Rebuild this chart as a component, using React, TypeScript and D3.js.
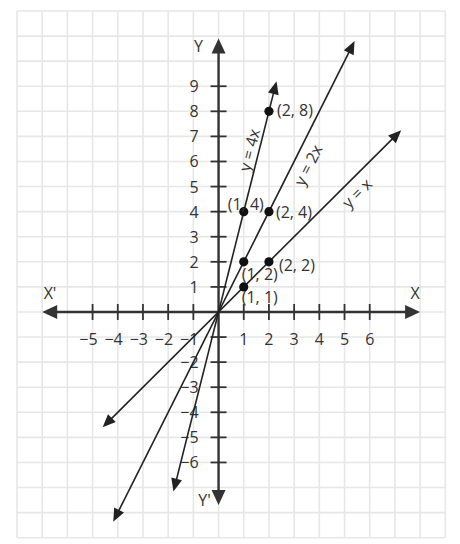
import React from "react";
import * as d3 from "d3";

const W = 460;
const H = 544;

const xDomain = [-8, 9];
const yDomain = [-9, 12];
const xTicks = [-5, -4, -3, -2, -1, 1, 2, 3, 4, 5, 6];
const yTicks = [-6, -5, -4, -3, -2, -1, 1, 2, 3, 4, 5, 6, 7, 8, 9];
const xAxisExtent = [-7.0, 8.0];
const yAxisExtent = [-7.7, 10.9];

const slopes = [4, 2, 1];
const lineFrom = [-1.79, -4.18, -4.6];
const lineTo = [2.3, 5.4, 7.25];
const lineLabels = ["y = 4x", "y = 2x", "y = x"];
const lineLabelAt: [number, number][] = [
  [1.22, 6.46],
  [3.55, 5.86],
  [5.49, 4.74],
];

const pointsX = [2, 1, 2, 1, 2, 1];
const pointsY = [8, 4, 4, 2, 2, 1];
const pointLabels = ["(2, 8)", "(1, 4)", "(2, 4)", "(1, 2)", "(2, 2)", "(1, 1)"];
const pointLabelOffset: [number, number, string][] = [
  [8, -1, "start"],
  [2, -8, "middle"],
  [7, 0, "start"],
  [-2, 12, "start"],
  [10, 3, "start"],
  [-2, 10, "start"],
];

const FONT = "'Open Sans', 'DejaVu Sans', sans-serif";
const TXT = "#333";

function arrowHead(tipX: number, tipY: number, fromX: number, fromY: number, len: number, half: number) {
  const dx = tipX - fromX;
  const dy = tipY - fromY;
  const d = Math.hypot(dx, dy);
  const ux = dx / d;
  const uy = dy / d;
  const bx = tipX - ux * len;
  const by = tipY - uy * len;
  const px = -uy;
  const py = ux;
  return {
    points: `${tipX},${tipY} ${bx + px * half},${by + py * half} ${bx - px * half},${by - py * half}`,
    baseX: tipX - ux * (len - 2),
    baseY: tipY - uy * (len - 2),
  };
}

export default function App() {
  const x = d3.scaleLinear().domain(xDomain).range([17, 445.3]);
  const y = d3.scaleLinear().domain(yDomain).range([537.7, 11]);

  const gridX = d3.range(xDomain[0], xDomain[1] + 1);
  const gridY = d3.range(yDomain[0], yDomain[1] + 1);

  const ox = x(0);
  const oy = y(0);

  // axes arrows
  const xl = x(xAxisExtent[0]);
  const xr = x(xAxisExtent[1]);
  const yt = y(yAxisExtent[1]);
  const yb = y(yAxisExtent[0]);
  const aL = arrowHead(xl, oy, xr, oy, 15, 7);
  const aR = arrowHead(xr, oy, xl, oy, 15, 7);
  const aT = arrowHead(ox, yt, ox, yb, 15, 7);
  const aB = arrowHead(ox, yb, ox, yt, 15, 7);

  return (
    <svg
      width={W}
      height={H}
      style={{ position: "fixed", left: 0, top: 0, background: "#fff" }}
      fontFamily={FONT}
    >
      <rect x={0} y={0} width={W} height={H} fill="#fff" />
      <g stroke="#e7e7e7" strokeWidth={1.6}>
        {gridX.map((v) => (
          <line key={"gx" + v} x1={x(v)} x2={x(v)} y1={y(yDomain[1])} y2={y(yDomain[0])} />
        ))}
        {gridY.map((v) => (
          <line key={"gy" + v} x1={x(xDomain[0])} x2={x(xDomain[1])} y1={y(v)} y2={y(v)} />
        ))}
      </g>

      {/* axes */}
      <g stroke="#333" strokeWidth={2.4}>
        <line x1={aL.baseX} x2={aR.baseX} y1={oy} y2={oy} />
        <line x1={ox} x2={ox} y1={aT.baseY} y2={aB.baseY} />
        {xTicks.map((t) => (
          <line key={"xt" + t} x1={x(t)} x2={x(t)} y1={oy - 8} y2={oy + 8} strokeWidth={1.8} />
        ))}
        {yTicks.map((t) => (
          <line key={"yt" + t} x1={ox - 8} x2={ox + 8} y1={y(t)} y2={y(t)} strokeWidth={1.8} />
        ))}
      </g>
      <g fill="#333">
        <polygon points={aL.points} />
        <polygon points={aR.points} />
        <polygon points={aT.points} />
        <polygon points={aB.points} />
      </g>

      {/* tick labels */}
      <g fill={TXT} fontSize={16}>
        {xTicks.map((t) => (
          <text
            key={"xl" + t}
            x={t < 0 ? x(t) + 5 : x(t)}
            y={oy + 27}
            textAnchor={t < 0 ? "end" : "middle"}
            dominantBaseline="central"
          >
            {t < 0 ? "\u2212" + Math.abs(t) : String(t)}
          </text>
        ))}
        {yTicks
          .filter((t) => t !== -1)
          .map((t) => (
            <text key={"yl" + t} x={ox - 20} y={y(t)} textAnchor="end" dominantBaseline="central">
              {t < 0 ? "\u2212" + Math.abs(t) : String(t)}
            </text>
          ))}
        <text x={50} y={oy - 19} textAnchor="middle" dominantBaseline="central">X'</text>
        <text x={415} y={oy - 19} textAnchor="middle" dominantBaseline="central">X</text>
        <text x={ox - 20} y={46} textAnchor="middle" dominantBaseline="central">Y</text>
        <text x={ox - 14} y={500} textAnchor="middle" dominantBaseline="central">Y'</text>
      </g>

      {/* lines */}
      {slopes.map((m, i) => {
        const x1 = x(lineFrom[i]);
        const y1 = y(m * lineFrom[i]);
        const x2 = x(lineTo[i]);
        const y2 = y(m * lineTo[i]);
        const a1 = arrowHead(x1, y1, x2, y2, 13, 5.5);
        const a2 = arrowHead(x2, y2, x1, y1, 13, 5.5);
        const ang = (Math.atan2(y2 - y1, x2 - x1) * 180) / Math.PI;
        const [lx, ly] = lineLabelAt[i];
        return (
          <g key={"l" + i}>
            <line x1={a1.baseX} y1={a1.baseY} x2={a2.baseX} y2={a2.baseY} stroke="#222" strokeWidth={1.6} />
            <polygon points={a1.points} fill="#222" />
            <polygon points={a2.points} fill="#222" />
            <text
              transform={`translate(${x(lx)},${y(ly)}) rotate(${ang})`}
              textAnchor="middle"
              dominantBaseline="central"
              fontSize={16}
              fill={TXT}
            >
              {lineLabels[i]}
            </text>
          </g>
        );
      })}

      {/* points */}
      {pointsX.map((px, i) => (
        <g key={"p" + i}>
          <circle cx={x(px)} cy={y(pointsY[i])} r={4.6} fill="#111" />
          <text
            x={x(px) + pointLabelOffset[i][0]}
            y={y(pointsY[i]) + pointLabelOffset[i][1]}
            textAnchor={pointLabelOffset[i][2] as any}
            dominantBaseline="central"
            fontSize={16}
            fill={TXT}
          >
            {pointLabels[i]}
          </text>
        </g>
      ))}
    </svg>
  );
}
